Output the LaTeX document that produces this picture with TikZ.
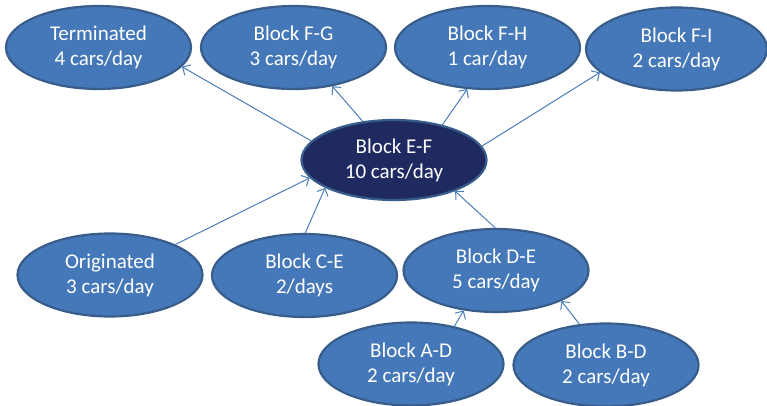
\documentclass[tikz,border=0pt]{standalone}
\usepackage{fontspec}
\setmainfont{Carlito}
\usetikzlibrary{shapes.geometric,arrows.meta}

\definecolor{blockfill}{RGB}{69,120,184}
\definecolor{blockedge}{RGB}{56,93,138}
\definecolor{hubfill}{RGB}{31,43,96}
\definecolor{flowline}{RGB}{74,126,187}

\tikzset{
  block/.style={ellipse, draw=blockedge, line width=2.2pt, fill=blockfill,
    minimum width=185pt, minimum height=83pt, inner sep=0pt,
    text=white, align=center, font=\fontsize{21}{25}\selectfont},
  hub/.style={block, fill=hubfill, minimum height=80pt},
  flow/.style={draw=flowline, line width=1pt,
    -{Straight Barb[length=6pt,width=12pt,line width=1pt]}}
}

\begin{document}
\begin{tikzpicture}[x=1pt,y=-1pt]
\path[use as bounding box] (0,0) rectangle (767,406);

% outgoing blocks
\node[block] (term) at (98.5,47.5) {Terminated\\4 cars/day};
\node[block] (fg)   at (293.5,47.5) {Block F-G\\3 cars/day};
\node[block] (fh)   at (487.5,47.5) {Block F-H\\1 car/day};
\node[block, minimum width=181pt] (fi) at (676.5,49) {Block F-I\\2 cars/day};

% central block
\node[hub] (ef) at (394,160) {Block E-F\\10 cars/day};

% incoming blocks
\node[block] (orig) at (110,275)   {Originated\\3 cars/day};
\node[block] (ce)   at (304.5,275.5) {Block C-E\\2/days};
\node[block] (de)   at (496,270.5) {Block D-E\\5 cars/day};
\node[block] (ad)   at (411,364)   {Block A-D\\2 cars/day};
\node[block] (bd)   at (606,365)   {Block B-D\\2 cars/day};

% flows out of E-F
\draw[flow] (ef.167) -- (term.-13);
\draw[flow] (ef.129) -- (fg.-45);
\draw[flow] (ef.36)  -- (fh.244);
\draw[flow] (ef.9.7) -- (fi.197.7);

% flows into E-F
\draw[flow] (orig.25.5) -- (ef.192.3);
\draw[flow] (ce.89)     -- (ef.202.6);
\draw[flow] (de.91)     -- (ef.-27);

% flows into D-E
\draw[flow] (ad.41.4) -- (de.231.9);
\draw[flow] (bd.123)  -- (de.-25.5);
\end{tikzpicture}
\end{document}
